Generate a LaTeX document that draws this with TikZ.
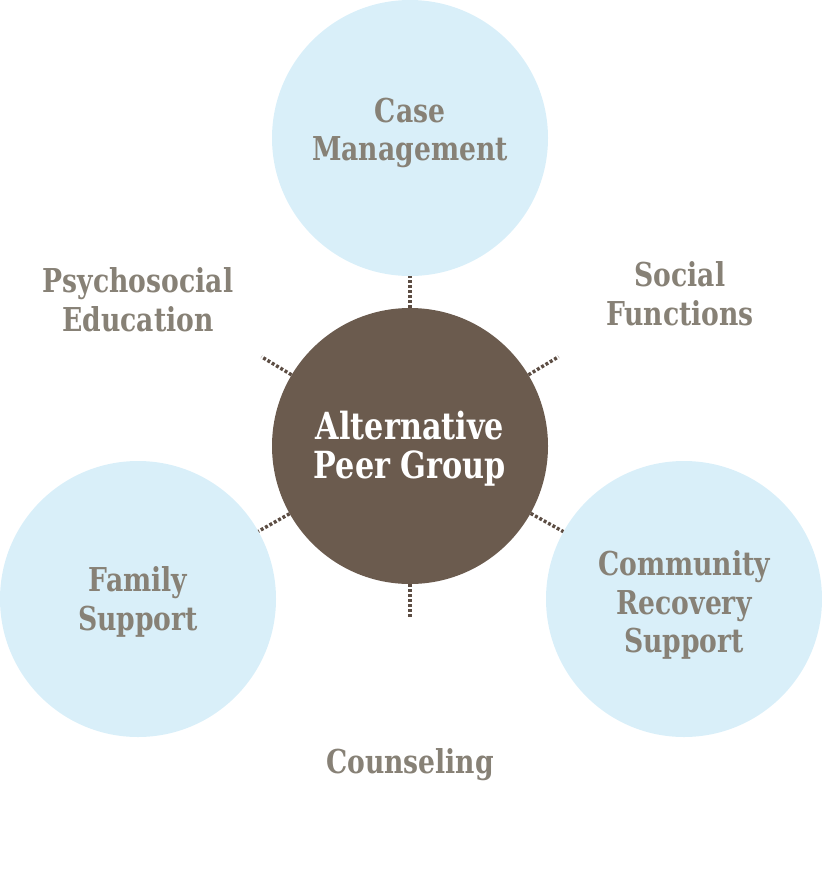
\documentclass[tikz,border=0pt]{standalone}
\usepackage{fontspec}
\setmainfont{DejaVu Serif}[FakeStretch=0.81]
\usetikzlibrary{calc}
\definecolor{lightblue}{HTML}{D9EFF9}
\definecolor{hub}{HTML}{6B5B4E}
\definecolor{labelgrey}{HTML}{878176}
\definecolor{dotcol}{HTML}{5C4D43}
\begin{document}
\begin{tikzpicture}[x=1bp,y=-1bp,
  bubble/.style={circle,fill=lightblue,minimum size=276bp,inner sep=0pt},
  hubnode/.style={circle,fill=hub,minimum size=276bp,inner sep=0pt},
  txt/.style={text=labelgrey,align=center,font=\fontsize{33}{39}\selectfont\bfseries,inner sep=0pt},
  hubtxt/.style={text=white,align=center,font=\fontsize{37.5}{39}\selectfont\bfseries,inner sep=0pt},
  dotline/.style={draw=dotcol,line width=3.4bp,dash pattern=on 3bp off 2bp}]
\useasboundingbox (0,0) rectangle (822,895);
\node[bubble] (top) at (410,138) {};
\node[bubble] (left) at (138,599) {};
\node[bubble] (right) at (684,599) {};
\node[hubnode] (cen) at (410,446) {};
\node[txt] (toptxt) at (410,133) {Case\\Management};
\node[txt] (lefttxt) at (138,602) {Family\\Support};
\node[txt] (righttxt) at (684,605) {Community\\Recovery\\Support};
\node[hubtxt] (centxt) at (410,449) {Alternative\\Peer Group};
\node[txt] (psy) at (138,300) {Psychosocial\\Education};
\node[txt] (soc) at (680,294) {Social\\Functions};
\node[txt] (cou) at (410,765) {Counseling};
\coordinate (ul) at ($(cen.center)!1.254!(cen.149)$);
\coordinate (ur) at ($(cen.center)!1.254!(cen.31)$);
\coordinate (bt) at (410,619);
\draw[dotline] (cen) -- (top);
\draw[dotline] (cen) -- (left);
\draw[dotline] (cen) -- (right);
\draw[dotline] (cen.149) -- (ul);
\draw[dotline] (cen.31) -- (ur);
\draw[dotline] (cen.270) -- (bt);
\end{tikzpicture}
\end{document}
